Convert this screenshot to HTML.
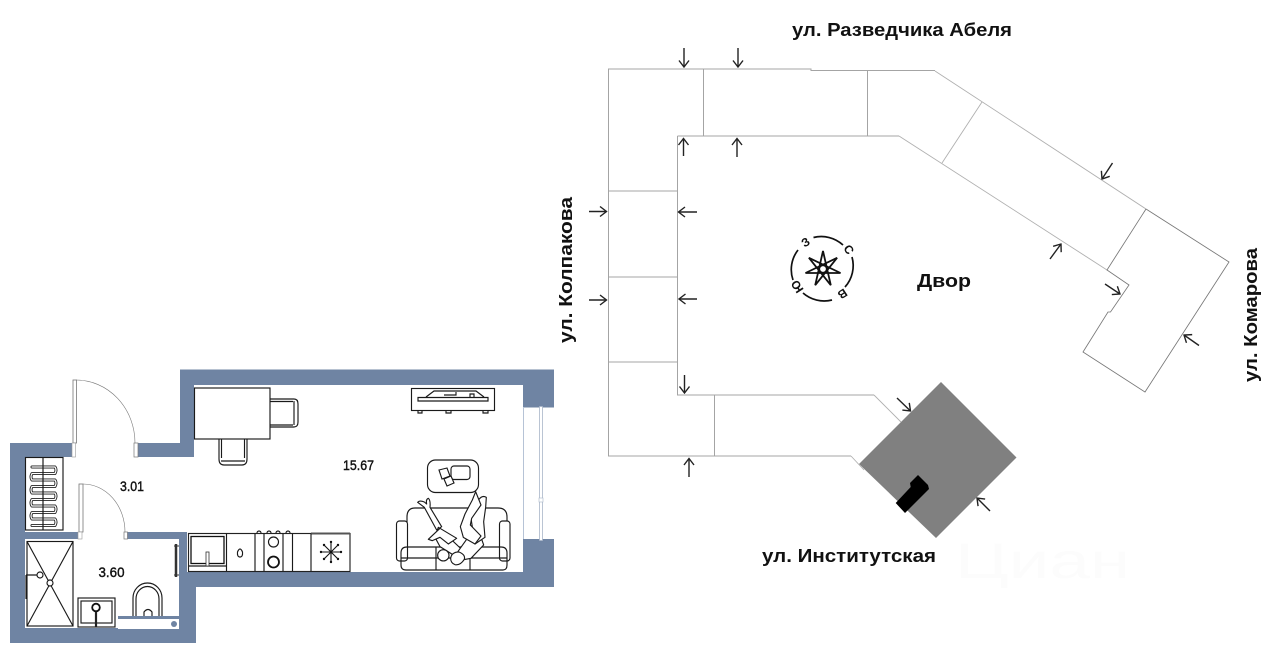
<!DOCTYPE html>
<html lang="ru">
<head>
<meta charset="utf-8">
<title>План</title>
<style>
html,body{margin:0;padding:0;background:#fff;width:1280px;height:652px;overflow:hidden}
svg{display:block}
text{font-family:"Liberation Sans",sans-serif;fill:#111}
.b{font-weight:700;font-size:18px}
.n{font-size:13.5px;stroke:#111;stroke-width:.4}
.f{fill:none;stroke:#1a1a1a;stroke-width:1.15}
.t{fill:#fff;stroke:#1a1a1a;stroke-width:1.15}
.g{fill:none;stroke:#a4a4a4;stroke-width:1}
.d{fill:none;stroke:#b0b0b0;stroke-width:.9}
.a{fill:none;stroke:#222;stroke-width:1.4}
.c{font-size:12px;font-weight:700;text-anchor:middle;dominant-baseline:middle}
</style>
</head>
<body>
<svg width="1280" height="652" viewBox="0 0 1280 652" xmlns="http://www.w3.org/2000/svg">
<defs>
<marker id="h" viewBox="0 0 12 12" refX="11" refY="6" markerWidth="12" markerHeight="12" markerUnits="userSpaceOnUse" orient="auto"><path d="M4.500 1 L11 6 L4.500 11" fill="none" stroke="#222" stroke-width="1.400"/></marker>
</defs>

<!-- walls -->
<path fill="#6f84a3" fill-rule="evenodd" d="M10 443 H72 V457 H25 V532 H80 V539 H25 V628 H118 V616 H179 V539 H127 V532 H187 V572 H523 V539 H554 V587 H196 V643 H10 Z"/>
<path fill="#6f84a3" d="M138 443 H180 V369.500 H554 V407.500 H523 V385 H194 V457 H138 Z"/>
<rect x="118" y="619" width="61" height="10" fill="#fff"/>
<circle cx="174" cy="624" r="3" fill="#6f84a3"/>

<!-- window -->
<path d="M523.500 407 V539" stroke="#b6c3d6" stroke-width="1" fill="none"/>
<rect x="539.500" y="406.500" width="3" height="134" fill="#fff" stroke="#a9b6c9" stroke-width=".8"/>
<rect x="539" y="498" width="4" height="4" fill="#fff" stroke="#a9b6c9" stroke-width=".6"/>

<!-- doors -->
<rect x="73" y="380" width="3.500" height="63" fill="#fff" stroke="#777" stroke-width=".8"/>
<rect x="72" y="443" width="3.500" height="14" fill="#fff" stroke="#999" stroke-width=".6"/>
<rect x="134" y="443" width="4" height="14" fill="#fff" stroke="#777" stroke-width=".7"/>
<path d="M76 380 A59 63 0 0 1 135 443" fill="none" stroke="#777" stroke-width=".6"/>
<rect x="79" y="484" width="4" height="48" fill="#fff" stroke="#777" stroke-width=".8"/>
<rect x="78" y="532" width="4" height="7" fill="#fff" stroke="#999" stroke-width=".6"/>
<rect x="124" y="532" width="3.500" height="7" fill="#fff" stroke="#777" stroke-width=".7"/>
<path d="M83 484 A42 48 0 0 1 125 532" fill="none" stroke="#777" stroke-width=".6"/>

<!-- table and chairs -->
<path class="f" d="M270 399 H294 Q298 399 298 404 V422 Q298 427 294 427 H270 M270 401.500 H293 M270 425 H293 M294 401 V425"/>
<path class="f" d="M219 439 V459 Q219 465 224 465 H242 Q247 465 247 459 V439 M221.500 439 V458 M244.500 439 V458 M221 461 H245"/>
<rect class="t" x="194.500" y="388" width="75.500" height="51"/>

<!-- towel dryer -->
<rect class="t" x="25.500" y="457.500" width="37.500" height="72.500"/>
<path fill="none" stroke="#222" stroke-width="3" stroke-linecap="round" stroke-linejoin="round" d="M32 467 H55 Q57 470 55 473.500 H32 Q30 477 32 480 H55 Q57 483 55 486.500 H32 Q30 490 32 493 H55 Q57 496 55 499.500 H32 Q30 503 32 506 H55 Q57 509 55 512.500 H32 Q30 516 32 519 H55 Q57 522 55 525.500 H32"/>
<path fill="none" stroke="#fff" stroke-width="1.200" stroke-linecap="round" d="M32 467 H55 Q57 470 55 473.500 H32 Q30 477 32 480 H55 Q57 483 55 486.500 H32 Q30 490 32 493 H55 Q57 496 55 499.500 H32 Q30 503 32 506 H55 Q57 509 55 512.500 H32 Q30 516 32 519 H55 Q57 522 55 525.500 H32"/>
<path d="M43 457.500 V530" stroke="#1a1a1a" stroke-width="1.200"/>

<!-- shower -->
<rect x="25.500" y="540" width="50" height="88" fill="#fff"/>
<rect class="f" x="27" y="541.500" width="46" height="84.500"/>
<path class="f" d="M27 541.500 L73 626 M73 541.500 L27 626 M26 575 H37 M26 575 V599"/>
<circle class="t" cx="50" cy="583" r="3"/>
<circle class="t" cx="40" cy="575" r="3"/>

<!-- sink -->
<rect class="t" x="78" y="598" width="37" height="29"/>
<rect class="f" x="81" y="601" width="31" height="22"/>
<circle cx="96" cy="607.500" r="3.800" fill="#fff" stroke="#111" stroke-width="1.800"/>
<path d="M96 612 V627" stroke="#222" stroke-width="2.200"/>

<!-- toilet -->
<path fill="#fff" stroke="#1a1a1a" stroke-width="1.150" d="M133 616 V598 A14.500 15 0 0 1 162 598 V616"/>
<path class="f" d="M136 616 V599 A11.500 12.500 0 0 1 159 599 V616"/>
<path class="f" d="M144 616 V612 Q148 607 152 612 V616"/>

<!-- towel rail -->
<path d="M176 544 V577" stroke="#333" stroke-width="2.500"/>
<path d="M174 546 H179 M174 575 H179" stroke="#333" stroke-width="1"/>

<!-- kitchen -->
<rect x="188.500" y="533.500" width="161.500" height="38" fill="#fff" stroke="#222" stroke-width="1.150"/>
<path d="M311 533.500 H350" stroke="#555" stroke-width="2"/>
<path class="f" d="M226.500 533.500 V571 M255 533.500 V571 M264 533.500 V571 M283 533.500 V571 M292.500 533.500 V571 M311 533.500 V571"/>
<rect fill="none" stroke="#111" stroke-width="1.300" x="191" y="536.500" width="33" height="27"/>
<path class="f" d="M189 566 H226"/>
<rect x="206" y="552" width="3" height="14" fill="#fff" stroke="#333" stroke-width=".8"/>
<path class="f" d="M237.500 552 Q240 546 242.500 552 Q243 557 240 557 Q237 557 237.500 552 Z"/>
<circle class="f" cx="273.500" cy="542" r="5"/>
<circle fill="none" stroke="#111" stroke-width="1.800" cx="273.500" cy="562" r="5.500"/>
<path class="f" d="M257 533 A2 2 0 0 1 261 533 M267 533 A2 2 0 0 1 271 533 M276 533 A2 2 0 0 1 280 533 M286 533 A2 2 0 0 1 290 533"/>
<path d="M321 552 H341 M331 542 V562 M324 545 L338 559 M338 545 L324 559" stroke="#111" stroke-width="1.100"/>
<g fill="#111"><circle cx="321" cy="552" r="1.200"/><circle cx="341" cy="552" r="1.200"/><circle cx="331" cy="542" r="1.200"/><circle cx="331" cy="562" r="1.200"/><circle cx="324" cy="545" r="1.200"/><circle cx="338" cy="559" r="1.200"/><circle cx="338" cy="545" r="1.200"/><circle cx="324" cy="559" r="1.200"/></g>

<!-- TV -->
<rect class="t" x="411.500" y="388.500" width="83" height="22"/>
<path class="f" d="M418 397.500 H488 V401 H418 Z M426 397 L434 391 H476 L484 397 M444 395 H456 V392 M470 397 V394 H474 V397"/>
<path class="f" d="M418 411 V413 H422 V411 M446 411 V413 H451 V411 M483 411 V413 H488 V411"/>

<!-- coffee table -->
<rect class="f" x="427.500" y="460" width="51" height="32.500" rx="8"/>
<rect class="f" x="451" y="466" width="19" height="13.500" rx="3"/>
<path class="t" d="M439 470 L447 468 L450 476 L442 479 Z M444 479 L451 476 L454 483 L447 486 Z"/>

<!-- sofa -->
<g class="f">
<path d="M407 547 V517 Q407 508 415 508 H498 Q507 508 507 517 V547"/>
<rect x="396.500" y="521" width="11" height="40" rx="3" fill="#fff"/>
<rect x="499.500" y="521" width="10.500" height="40" rx="3" fill="#fff"/>
<path d="M401 565 Q401 570 406 570 H503 Q507 570 507 565 V553 Q507 547 501 547 H407 Q401 547 401 553 Z"/>
<path d="M401 558 H507 M436 547 V570 M470 547 V570"/>
</g>
<!-- people -->
<g transform="translate(385 450) scale(.3333)" fill="#fff" stroke="#1a1a1a" stroke-width="3.400" stroke-linejoin="round" stroke-linecap="round">
<path d="M98 157 Q104 150 118 156 L125 162 Q122 148 130 145 Q137 150 135 172 L170 230 L155 240 L118 172 Z"/>
<path d="M160 232 L232 300 L210 318 L165 290 L150 262 Z"/>
<path d="M130 268 L165 235 L215 265 L190 282 L165 262 L142 272 Z"/>
<path d="M215 310 L245 268 L288 262 L296 285 L258 325 L232 330 Z"/>
<path d="M282 148 Q292 135 304 142 L302 172 L296 215 L300 262 L270 282 L258 205 Z"/>
<path d="M235 262 L226 230 L240 192 L262 150 L272 125 L282 150 L288 165 L260 205 L256 225 L288 258 L270 282 Z"/>
<circle cx="175" cy="316" r="17"/>
<path d="M197 325 Q200 306 222 306 Q242 314 238 328 Q226 347 210 344 Q197 339 197 325 Z"/>
</g>

<!-- building outline -->
<g class="g">
<path d="M851 456 H608.500 V69 H811 V70.500 H935"/>
<path d="M677.500 136 H899"/>
<path d="M677.500 136 V395 H874"/>
<path d="M703.500 69 V136 M867.500 70.500 V136 M608.500 191 H677.500 M608.500 277 H677.500 M608.500 362 H677.500 M714.500 395 V456"/>
</g>
<g class="d">
<path d="M935 71 L1146 209 M899 136 L1107 270 M874 395 L901 422 M851 456 L864 470 M982 102 L942 163"/>
</g>
<path d="M1146 209 L1107 270 L1129 285 L1110.500 312 L1108 312 L1083 352 L1145 392 L1229 262 L1146 209" fill="none" stroke="#777" stroke-width=".85"/>

<!-- dark plot -->
<polygon points="941,382 1016.500,457.500 936,538 859,464" fill="#808080"/>
<polygon points="895.700,503 910.700,487 910,483 918,475 928,485 929,489 905,513" fill="#000"/>

<!-- arrows -->
<g class="a">
<line x1="684" y1="48" x2="684" y2="67" marker-end="url(#h)"/>
<line x1="738" y1="48" x2="738" y2="67" marker-end="url(#h)"/>
<line x1="683.500" y1="156" x2="683.500" y2="138.500" marker-end="url(#h)"/>
<line x1="737" y1="157" x2="737" y2="138.500" marker-end="url(#h)"/>
<line x1="589" y1="211.500" x2="606.500" y2="211.500" marker-end="url(#h)"/>
<line x1="697" y1="212" x2="678.500" y2="212" marker-end="url(#h)"/>
<line x1="589" y1="300" x2="606.500" y2="300" marker-end="url(#h)"/>
<line x1="697" y1="299" x2="679" y2="299" marker-end="url(#h)"/>
<line x1="684.500" y1="375" x2="684.500" y2="393" marker-end="url(#h)"/>
<line x1="689" y1="477" x2="689" y2="458.500" marker-end="url(#h)"/>
<line x1="897" y1="398" x2="910.500" y2="411" marker-end="url(#h)"/>
<line x1="1112.500" y1="163" x2="1102" y2="179" marker-end="url(#h)"/>
<line x1="1050" y1="259" x2="1061" y2="244" marker-end="url(#h)"/>
<line x1="1105" y1="284" x2="1120" y2="294" marker-end="url(#h)"/>
<line x1="1199" y1="345.500" x2="1184" y2="335" marker-end="url(#h)"/>
<line x1="990" y1="511" x2="977" y2="498" marker-end="url(#h)"/>
</g>

<!-- compass -->
<g fill="none" stroke="#111" stroke-width="1.700">
<path d="M813.500 237.500 A32 32 0 0 1 843 245"/>
<path d="M852 257 A32 32 0 0 1 845 287"/>
<path d="M832 300 A32 32 0 0 1 803 293"/>
<path d="M793 280 A32 32 0 0 1 798 250"/>
<polygon stroke-width="1.800" stroke-linejoin="miter" points="823,251 830.800,285.200 808.900,257.800 840.500,273 805.500,273 837.100,257.800 815.200,285.200"/>
<circle cx="823" cy="269" r="3.500" stroke-width="1.200"/>
</g>
<text class="c" transform="translate(848 250) rotate(57)">С</text>
<text class="c" transform="translate(842 293) rotate(147)">В</text>
<text class="c" transform="translate(798 286) rotate(237)">Ю</text>
<text class="c" transform="translate(806 243) rotate(-33)">З</text>

<!-- watermark -->
<text x="955" y="578" font-size="50" style="fill:#fcfcfc" textLength="175" lengthAdjust="spacingAndGlyphs">Циан</text>

<!-- labels -->
<text class="n" x="120" y="491" textLength="24" lengthAdjust="spacingAndGlyphs">3.01</text>
<text class="n" x="98.500" y="577" textLength="26" lengthAdjust="spacingAndGlyphs">3.60</text>
<text class="n" x="343" y="470" textLength="31" lengthAdjust="spacingAndGlyphs">15.67</text>
<text class="b" x="792" y="36" textLength="220" lengthAdjust="spacingAndGlyphs">ул. Разведчика Абеля</text>
<text class="b" x="917" y="287" textLength="54" lengthAdjust="spacingAndGlyphs">Двор</text>
<text class="b" x="762" y="562" textLength="174" lengthAdjust="spacingAndGlyphs">ул. Институтская</text>
<text class="b" transform="translate(572 343) rotate(-90)" textLength="146" lengthAdjust="spacingAndGlyphs">ул. Колпакова</text>
<text class="b" transform="translate(1257 382) rotate(-90)" textLength="134" lengthAdjust="spacingAndGlyphs">ул. Комарова</text>
</svg>
</body>
</html>
